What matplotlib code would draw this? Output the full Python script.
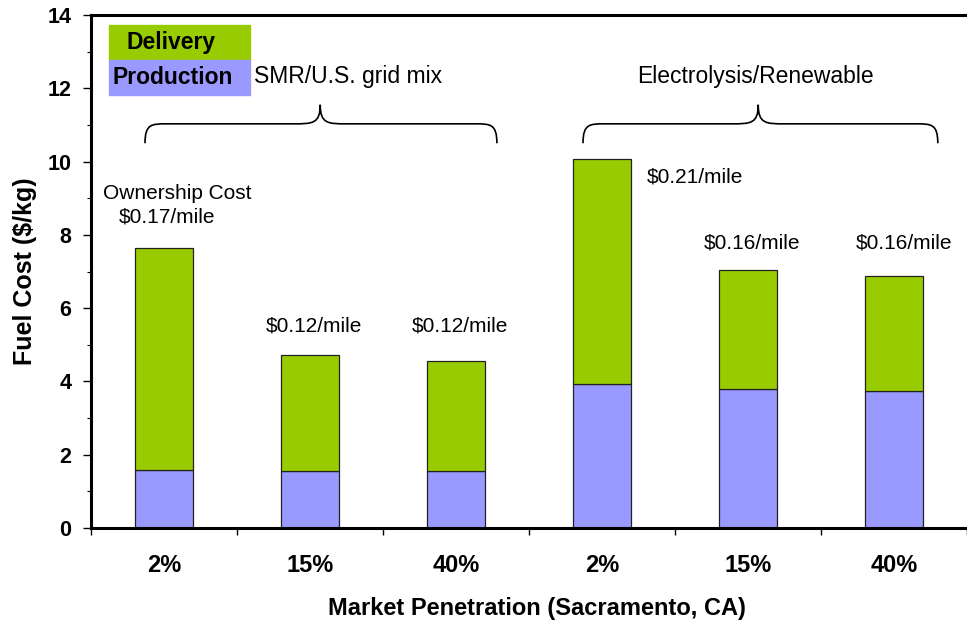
import matplotlib.pyplot as plt
from matplotlib.patches import Rectangle, PathPatch
from matplotlib.path import Path

plt.rcParams['font.family'] = ['Liberation Sans', 'DejaVu Sans']

penetration = ["2%", "15%", "40%", "2%", "15%", "40%"]
production = [1.58, 1.55, 1.55, 3.92, 3.78, 3.75]
delivery = [6.07, 3.18, 3.02, 6.15, 3.27, 3.13]
cost_per_mile = ["$0.17/mile", "$0.12/mile", "$0.12/mile",
                 "$0.21/mile", "$0.16/mile", "$0.16/mile"]
pathways = ["SMR/U.S. grid mix", "Electrolysis/Renewable"]

GREEN = "#99CC00"
BLUE = "#9999FF"

fig = plt.figure(figsize=(9.67, 6.21), dpi=100)
ax = fig.add_axes([91 / 967, 1 - 528 / 621, 1 - 91 / 967, (528 - 15) / 621])

x = list(range(len(penetration)))
ax.bar(x, production, width=0.40, color=BLUE, edgecolor="#222222", linewidth=0.9, zorder=2)
ax.bar(x, delivery, width=0.40, bottom=production, color=GREEN, edgecolor="#222222",
       linewidth=0.9, zorder=2)

ax.set_xlim(-0.5, 5.5)
ax.set_ylim(0, 14)

# axes style
for side in ["left", "bottom", "top"]:
    ax.spines[side].set_linewidth(2.2)
ax.spines["right"].set_visible(False)

ax.set_yticks(range(0, 15, 2))
ax.set_yticks(range(1, 15, 2), minor=True)
ax.set_xticks(x)
ax.set_xticklabels(penetration)
ax.set_xticks([i - 0.5 for i in range(len(penetration) + 1)], minor=True)
ax.tick_params(axis="y", which="major", length=6, width=1, pad=8, labelsize=15.5)
ax.tick_params(axis="y", which="minor", length=3, width=0.8)
ax.tick_params(axis="x", which="major", length=0, pad=19, labelsize=17)
ax.tick_params(axis="x", which="minor", length=5, width=1)
for lbl in ax.get_xticklabels() + ax.get_yticklabels():
    lbl.set_fontweight("bold")

fig.text(25 / 967, 1 - 271 / 621, "Fuel Cost ($/kg)", rotation=90, ha="center", va="center",
         fontsize=18, fontweight="bold")
fig.text(537 / 967, 1 - 608 / 621, "Market Penetration (Sacramento, CA)", ha="center",
         va="center", fontsize=17, fontweight="bold")

# cost per mile labels
ax.text(0.09, 9.14, "Ownership Cost", ha="center", va="center", fontsize=15)
label_pos = [(0.02, 8.49), (1.03, 5.51), (2.03, 5.51), (3.64, 9.58), (4.03, 7.78), (5.07, 7.78)]
for (lx, ly), txt in zip(label_pos, cost_per_mile):
    ax.text(lx, ly, txt, ha="center", va="center", fontsize=15)

ax.text(1.26, 12.31, pathways[0], ha="center", va="center", fontsize=16.5)
ax.text(4.05, 12.31, pathways[1], ha="center", va="center", fontsize=16.5)


def brace(x0, x1, xt, y_end, y_mid, y_tip):
    r = 0.15
    rt = 0.18
    verts = [(x0, y_end), (x0, y_mid), (x0 + r * 0.3, y_mid), (x0 + r, y_mid),
             (xt - rt, y_mid),
             (xt - rt * 0.3, y_mid), (xt, y_mid), (xt, y_tip),
             (xt, y_mid), (xt + rt * 0.3, y_mid), (xt + rt, y_mid),
             (x1 - r, y_mid),
             (x1 - r * 0.3, y_mid), (x1, y_mid), (x1, y_end)]
    codes = [Path.MOVETO, Path.CURVE4, Path.CURVE4, Path.CURVE4,
             Path.LINETO,
             Path.CURVE4, Path.CURVE4, Path.CURVE4,
             Path.CURVE4, Path.CURVE4, Path.CURVE4,
             Path.LINETO,
             Path.CURVE4, Path.CURVE4, Path.CURVE4]
    ax.add_patch(PathPatch(Path(verts, codes), fill=False, lw=1.2, color="black",
                           clip_on=False))


brace(-0.13, 2.28, 1.07, 10.5, 11.03, 11.55)
brace(2.87, 5.30, 4.07, 10.5, 11.03, 11.55)

# legend boxes
fw, fh = 967, 621
fig.patches.append(Rectangle((109 / fw, 1 - 60 / fh), 141 / fw, 35 / fh, color=GREEN,
                             transform=fig.transFigure, zorder=5))
fig.patches.append(Rectangle((109 / fw, 1 - 95 / fh), 141 / fw, 35 / fh, color=BLUE,
                             transform=fig.transFigure, zorder=5))
fig.text(127 / fw, 1 - 43 / fh, "Delivery", ha="left", va="center", fontsize=16.5,
         fontweight="bold", zorder=6)
fig.text(113 / fw, 1 - 78 / fh, "Production", ha="left", va="center", fontsize=16.5,
         fontweight="bold", zorder=6)

fig.savefig("out.png", dpi=100)
